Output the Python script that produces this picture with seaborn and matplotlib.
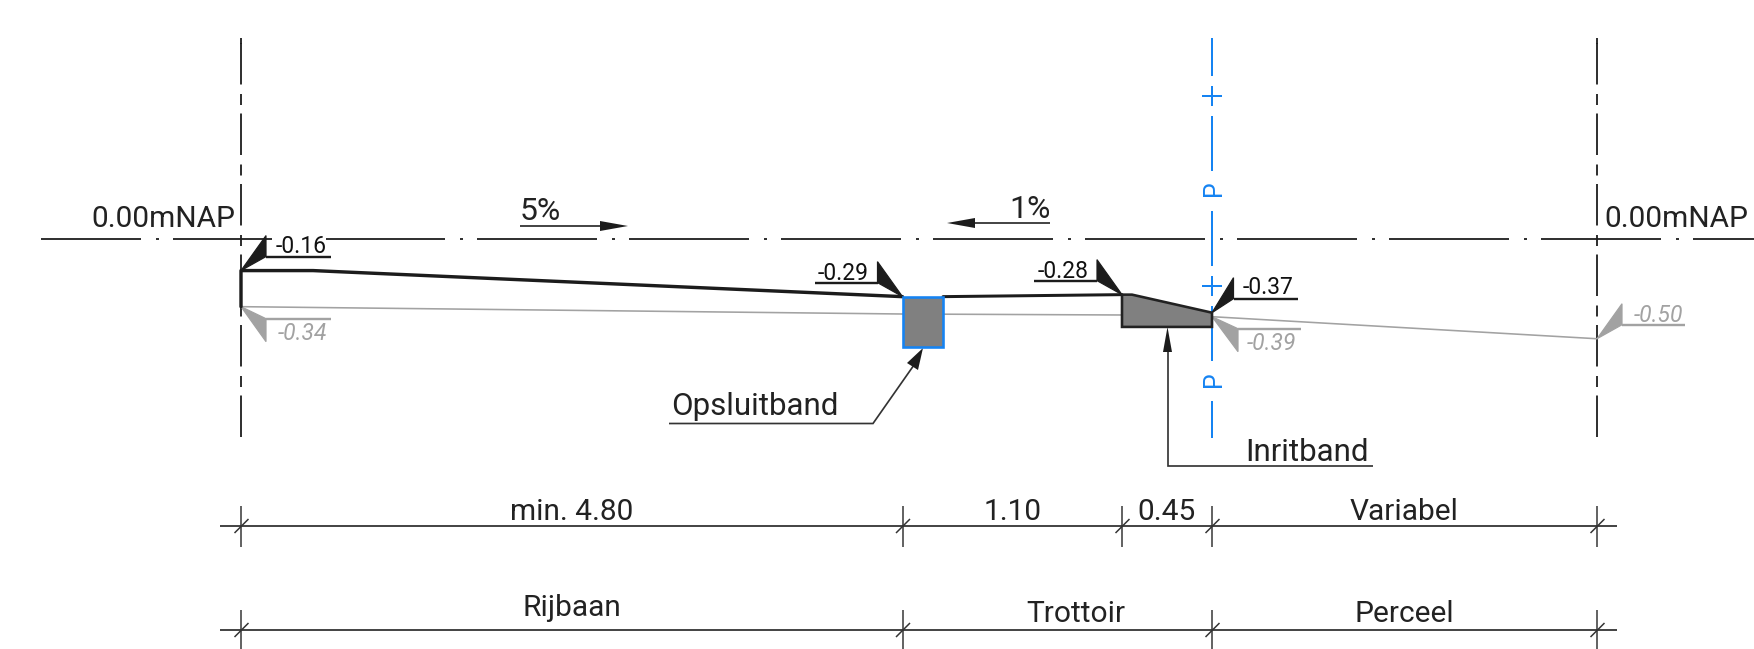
import matplotlib
matplotlib.use("Agg")
import matplotlib.pyplot as plt
from matplotlib.transforms import Affine2D
from matplotlib.patches import Rectangle
import pandas as pd
import seaborn as sns

# Road cross-section data: stations along the profile (m, drawing scale) and levels (m NAP)
stations = [0.0, 3.3075, 3.51, 4.405, 4.855, 6.78]
design_road_x = [0.0, 0.0, 0.36, 3.3075]
design_road_y = [-0.34, -0.16, -0.16, -0.29]
design_walk_x = [3.51, 4.405]
design_walk_y = [-0.29, -0.28]
existing_x = [0.0, 3.3075, 4.405, 4.855, 6.78]
existing_y = [-0.34, -0.3766, -0.3815, -0.39, -0.50]
curb_x = [3.3075, 3.51, 3.51, 3.3075]
curb_y = [-0.29, -0.29, -0.541, -0.541]
drive_x = [4.405, 4.455, 4.855, 4.855, 4.405]
drive_y = [-0.28, -0.28, -0.37, -0.441, -0.441]
design_levels = [(0.0, -0.16, "-0.16"), (3.3075, -0.29, "-0.29"),
                 (4.405, -0.28, "-0.28"), (4.855, -0.37, "-0.37")]
existing_levels = [(0.0, -0.34, "-0.34"), (4.855, -0.39, "-0.39"), (6.78, -0.50, "-0.50")]
dim_row1_ticks = [0.0, 3.3075, 4.405, 4.855, 6.78]
dim_row2_ticks = [0.0, 3.3075, 4.855, 6.78]
dim_row1_labels = ["min. 4.80", "1.10", "0.45", "Variabel"]
dim_row2_labels = ["Rijbaan", "Trottoir", "Perceel"]
datum_label = "0.00mNAP"

W, H = 1754, 649
BLACK, DARK, GREY, BLUE, FILL = "#1c1c1c", "#333333", "#a2a2a2", "#1583f2", "#808080"
PT = 0.72
BIG, SMALL = 21.5, 16.5

sns.set_theme(style="white", rc={"lines.scale_dashes": False})
plt.rcParams["font.family"] = ["Roboto", "DejaVu Sans"]

fig = plt.figure(figsize=(W / 100, H / 100), dpi=100, facecolor="white")
ax = fig.add_axes([0, 0, 1, 1])
XLIM = (-241 / 200, (W - 241) / 200)
YLIM = (-(H - 238.5) / 200.5, 238.5 / 200.5)
ax.set_xlim(*XLIM)
ax.set_ylim(*YLIM)
ax.autoscale(False)
ax.axis("off")

pxT = Affine2D().scale(1, -1).translate(0, H)          # layout in top-left pixels


def PX(x):
    return 241 + 200 * x


def PY(y):
    return 238.5 - 200.5 * y


def seg(xs, ys, color=DARK, lw=1.6, z=2, **kw):
    kw.setdefault("solid_capstyle", "butt")
    ax.plot(xs, ys, color=color, lw=lw * PT, transform=pxT, zorder=z, **kw)


def poly(xs, ys, color=BLACK, z=3, lw=0):
    ax.fill(xs, ys, fc=color, ec=color, lw=lw * PT, transform=pxT, zorder=z, joinstyle="miter")


def label(x0, x1, base, s, size=BIG, color="#222222", style="normal"):
    return ax.text((x0 + x1) / 2, base, s, ha="center", va="baseline", fontsize=size, color=color,
                   style=style, transform=pxT, zorder=6)


def dash(on_off, offset):
    return (offset * PT, tuple(v * PT for v in on_off))


# centre lines -------------------------------------------------------------
seg([41, W], [PY(0), PY(0)], lw=2, ls=dash((120, 15, 3, 14), 20), dash_capstyle="butt")
for st in (stations[0], stations[5]):
    x = PX(st)
    seg([x, x], [38, 44], color=BLACK, lw=1.8)
    seg([x, x], [43, 438], color=BLACK, lw=1.8, ls=dash((41.5, 9.5, 11, 8.5), 0), dash_capstyle="butt")

# blue property axis
bx = PX(stations[4])
seg([bx, bx], [38, 438], color=BLUE, lw=2, ls=dash((55, 40), 17), dash_capstyle="butt")
for py in (96, 286):
    seg([bx - 10, bx + 10], [py, py], color=BLUE, lw=2)
    seg([bx, bx], [py - 10, py + 10], color=BLUE, lw=2)
for py in (188.5, 379):
    ax.text(bx + 9, py, "P", rotation=90, ha="center", va="baseline", fontsize=18,
            color=BLUE, transform=pxT, zorder=4, rotation_mode="anchor")

# mask behind the -0.16 label
ax.add_patch(Rectangle((272, 232), 54, 23, fc="white", ec="none", transform=pxT, zorder=2.5))

# surfaces -----------------------------------------------------------------
ax.fill(curb_x, curb_y, fc=FILL, ec=BLUE, lw=2.6 * PT, zorder=4, joinstyle="miter")
ax.fill(drive_x, drive_y, fc=FILL, ec="#222222", lw=2.6 * PT, zorder=4, joinstyle="miter")

sns.lineplot(data=pd.DataFrame({"x": existing_x, "y": existing_y}), x="x", y="y", ax=ax,
             sort=False, estimator=None, color=GREY, lw=1.6 * PT, zorder=3)
sns.lineplot(data=pd.DataFrame({"x": design_road_x, "y": design_road_y}), x="x", y="y", ax=ax,
             sort=False, estimator=None, color=BLACK, lw=3.4 * PT, zorder=3.5)
sns.lineplot(data=pd.DataFrame({"x": design_walk_x, "y": design_walk_y}), x="x", y="y", ax=ax,
             sort=False, estimator=None, color=BLACK, lw=3.0 * PT, zorder=3.5)

# level markers: triangle reach, underline length, text span and baseline for each label
marker_layout = {
    "-0.16": (25, 65, 277, 325, 253),
    "-0.29": (-25, 63, 817.5, 869, 279.5),
    "-0.28": (-25, 63, 1037, 1089, 278),
    "-0.37": (21.5, 64, 1242.5, 1294, 294),
    "-0.34": (25, 65, 275, 329, 340),
    "-0.39": (26, 63, 1246, 1296, 350),
    "-0.50": (25, 63, 1631.5, 1685, 322),
}


def marker(x, y, text, up, color, italic=False):
    dx, under, x0, x1, base = marker_layout[text]
    side = 1 if dx > 0 else -1
    tx, ty = PX(x), PY(y)
    x2 = tx + dx
    if up:
        y_top, y_bot = ty - 35, ty - 14
        base_y = y_bot
    else:
        y_top, y_bot = ty + 12, ty + 35
        base_y = y_top
    poly([tx, x2, x2], [ty, y_top, y_bot], color=color, lw=1.2)
    seg([x2, x2 + side * under], [base_y, base_y], color=color, lw=2.4)
    label(x0, x1, base, text, size=SMALL, color=color if italic else "#111111",
          style="italic" if italic else "normal")


for (x, y, t) in design_levels:
    marker(x, y, t, up=True, color=BLACK)
for (x, y, t) in existing_levels:
    marker(x, y, t, up=t == "-0.50", color=GREY, italic=True)

# slope arrows -------------------------------------------------------------
label(520, 561, 220, "5%", size=23)
seg([520, 602], [226, 226], lw=1.8)
poly([600, 628, 600], [221, 226, 231])
label(1010, 1050, 218, "1%", size=23)
seg([973, 1050], [223, 223], lw=1.8)
poly([975, 947, 975], [218, 223, 228])

# datum labels
label(93, 233, 227, datum_label)
label(1606, 1746, 227, datum_label)

# callouts -----------------------------------------------------------------
label(669, 840, 415, "Opsluitband", size=22.5)
seg([669, 873, 914], [423.5, 423.5, 365], lw=1.7, solid_joinstyle="miter")
poly([923, 907, 918], [348, 363, 370])
label(1242, 1372, 461, "Inritband", size=22.5)
seg([1373, 1167.5, 1167.5], [465.5, 465.5, 350], lw=1.7, solid_joinstyle="miter")
poly([1167.5, 1163, 1172], [327, 352, 352])

# dimension rows -----------------------------------------------------------
for row_y, top, bot, ticks in ((526, 506, 547, dim_row1_ticks), (630, 610, 649, dim_row2_ticks)):
    seg([220, 1617], [row_y, row_y], lw=1.8)
    for t in ticks:
        tx = PX(t)
        seg([tx, tx], [top, bot], lw=1.5)
        seg([tx - 6.5, tx + 7.5], [row_y + 7, row_y - 7], lw=1.5)

for (x0, x1), s in zip([(507, 636), (990, 1035), (1137, 1196), (1345, 1464)], dim_row1_labels):
    label(x0, x1, 520, s)
for (x0, x1), base, s in zip([(521, 623.5), (1017, 1135), (1350, 1458)], [615.5, 622.5, 622.5], dim_row2_labels):
    label(x0, x1, base, s)

ax.set_xlim(*XLIM)
ax.set_ylim(*YLIM)
fig.savefig("out.png", dpi=100, facecolor="white")
